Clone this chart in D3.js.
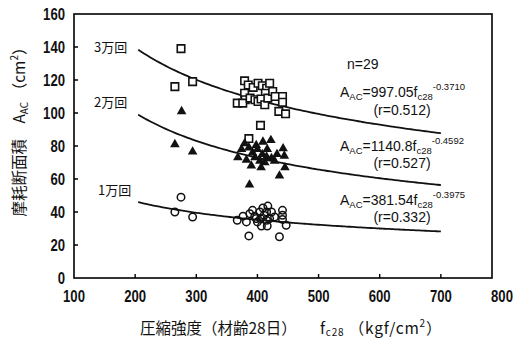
<!DOCTYPE html>
<html>
<head>
<meta charset="utf-8">
<script src="https://cdn.jsdelivr.net/npm/d3@7"></script>
<style>
  body { margin: 0; background: #fff; }
  .num { font-family: "Liberation Sans", Arial, sans-serif; }
  .jp  { font-family: "Noto Sans CJK JP", "Noto Sans CJK SC", sans-serif; }
  text { fill: #111; }
</style>
</head>
<body>
<svg id="chart" width="516" height="339"></svg>
<script>
// Abraded cross-section area A_AC (cm²) against 28-day compressive strength f_c28 (kgf/cm²)
const xTicks = [100, 200, 300, 400, 500, 600, 700, 800];
const yTicks = [0, 20, 40, 60, 80, 100, 120, 140, 160];

// [f_c28, A_AC] after 30,000 cycles
const cycles3 = [
  [275, 139], [265, 116], [294, 119],
  [379, 119.5], [385, 117], [393, 115.5], [401, 118], [408, 116.5], [415, 115],
  [420, 118], [413, 112], [379, 112], [380, 108], [367, 106], [376, 106],
  [388, 109], [396, 108], [401, 107], [406, 108.5], [412, 105], [417, 109],
  [425, 113], [429, 110], [441, 110], [441, 106.5], [435, 101], [446, 99.5],
  [405, 92.5], [386, 84.5]
];
// after 20,000 cycles
const cycles2 = [
  [276, 101], [265, 81], [294, 76.5],
  [379, 81.5], [386, 79], [398, 80.5], [409, 82.5], [422, 83.5], [442, 78.5],
  [374, 78], [400, 78], [416, 78], [368, 73], [382, 71.5], [392, 76],
  [396, 73], [404, 71], [408, 75], [415, 73.5], [423, 72.5], [428, 71],
  [432, 75], [444, 74], [412, 70], [390, 68], [406, 67], [445, 67],
  [436, 62], [387, 56.5]
];
// after 10,000 cycles
const cycles1 = [
  [275, 49], [265, 40], [294, 37],
  [367, 35], [376.5, 37.5], [382, 34], [387.5, 39], [392, 41], [395.6, 37.5],
  [398, 36], [400, 34], [404, 40], [405, 36], [409, 42.4], [411, 38],
  [415, 40], [417, 43.6], [415, 35], [420, 36], [423, 40], [428, 37],
  [406.5, 31.5], [416, 31.5], [441, 41], [441, 38], [441, 35.5], [447, 32],
  [386, 25.5], [436, 25]
];

// regression A_AC = a · f_c28^b
const fitCoef = [997.05, 1140.8, 381.54];
const fitExp = [-0.3710, -0.4592, -0.3975];
const fitR = [0.512, 0.527, 0.332];
const fitCoefText = ["997.05", "1140.8", "381.54"];
const fitExpText = ["-0.3710", "-0.4592", "-0.3975"];
const fitRText = ["0.512", "0.527", "0.332"];
const fitRange = [205, 700];
const seriesLabels = ["3万回", "2万回", "1万回"];
const sampleCount = "n=29";

const svg = d3.select("#chart");
const plotBox = { left: 74, top: 14, right: 492, bottom: 278 };

const x = d3.scaleLinear().domain([100, 800]).range([plotBox.left, 502]);
const y = d3.scaleLinear().domain([0, 160]).range([plotBox.bottom, plotBox.top]);

// tick labels (condensed bold digits)
svg.append("g").selectAll("text").data(yTicks).join("text")
  .attr("class", "num").attr("font-size", 16).attr("font-weight", "bold")
  .attr("text-anchor", "end")
  .attr("transform", v => `translate(65,${y(v) + 6}) scale(0.82,1)`)
  .text(d3.format("d"));
svg.append("g").selectAll("text").data(xTicks).join("text")
  .attr("class", "num").attr("font-size", 16).attr("font-weight", "bold")
  .attr("text-anchor", "middle")
  .attr("transform", v => `translate(${x(v)},302) scale(0.82,1)`)
  .text(d3.format("d"));

// rich text helper: parts of [string, "", "sub" | "sup"]
function richText(sel, parts, size, subSize, subDy = 3, supDy = -7) {
  let shift = 0;
  parts.forEach(([s, kind]) => {
    const target = kind === "sub" ? subDy : kind === "sup" ? supDy : 0;
    sel.append("tspan")
      .attr("dy", target - shift)
      .attr("font-size", kind ? subSize : size)
      .text(s);
    shift = target;
  });
}

// fitted curves
const line = d3.line().x(d => x(d[0])).y(d => y(d[1])).curve(d3.curveBasis);
fitCoef.forEach((a, i) => {
  const pts = d3.range(fitRange[0], fitRange[1] + 1, 5).map(f => [f, a * Math.pow(f, fitExp[i])]);
  svg.append("path").datum(pts).attr("d", line)
    .attr("fill", "none").attr("stroke", "#111").attr("stroke-width", 1.8);
});

// markers
const sq = d3.symbol(d3.symbolSquare, 56);
const tri = d3.symbol(d3.symbolTriangle, 40);
const circ = d3.symbol(d3.symbolCircle, 44);

svg.append("g").selectAll("path").data(cycles3).join("path")
  .attr("d", sq).attr("transform", d => `translate(${x(d[0])},${y(d[1])})`)
  .attr("fill", "#fff").attr("stroke", "#111").attr("stroke-width", 1.6);
svg.append("g").selectAll("path").data(cycles2).join("path")
  .attr("d", tri).attr("transform", d => `translate(${x(d[0])},${y(d[1])})`)
  .attr("fill", "#111");
svg.append("g").selectAll("path").data(cycles1).join("path")
  .attr("d", circ).attr("transform", d => `translate(${x(d[0])},${y(d[1])})`)
  .attr("fill", "none").attr("stroke", "#111").attr("stroke-width", 1.5);

// series labels
const labelPos = [[94, 52], [94, 107], [98, 195]];
seriesLabels.forEach((s, i) => {
  svg.append("text").attr("class", "jp").attr("x", labelPos[i][0]).attr("y", labelPos[i][1])
    .attr("font-size", 13).text(s);
});

// sample count
svg.append("text").attr("class", "num").attr("x", 347).attr("y", 69).attr("font-size", 14).text(sampleCount);

// regression equations
const eqBase = [97, 151, 205];
const rBase = [115, 168, 222];
fitCoef.forEach((a, i) => {
  const t = svg.append("text").attr("class", "num").attr("x", 340).attr("y", eqBase[i]);
  richText(t, [["A", ""], ["AC", "sub"], ["=" + fitCoefText[i] + "f", ""], ["c28", "sub"], [fitExpText[i], "sup"]], 14, 9.5);
  svg.append("text").attr("class", "num").attr("x", 402).attr("y", rBase[i])
    .attr("text-anchor", "middle").attr("font-size", 14).text(`(r=${fitRText[i]})`);
});

// axis titles
const yt = svg.append("text").attr("transform", "translate(25,128) rotate(-90)")
  .attr("text-anchor", "middle").attr("class", "jp");
richText(yt, [["摩耗断面積　A", ""], ["AC", "sub"], [" （cm", ""], ["2", "sup"], ["）", ""]], 15.5, 10);

svg.append("text").attr("x", 140).attr("y", 334).attr("class", "jp").attr("font-size", 15.5)
  .text("圧縮強度（材齢28日）");
const xt = svg.append("text").attr("x", 320).attr("y", 334).attr("class", "jp").attr("letter-spacing", 0.8);
richText(xt, [["f", ""], ["c28", "sub"], [" （kgf/cm", ""], ["2", "sup"], ["）", ""]], 15.5, 10, 2, -7);

// plot frame
svg.append("rect")
  .attr("x", plotBox.left).attr("y", plotBox.top)
  .attr("width", plotBox.right - plotBox.left).attr("height", plotBox.bottom - plotBox.top)
  .attr("fill", "none").attr("stroke", "#000").attr("stroke-width", 1.6);

// inward tick marks
const tp = d3.path();
yTicks.filter(v => v > 0 && v < 160).forEach(v => { tp.moveTo(plotBox.left, y(v)); tp.lineTo(plotBox.left + 4, y(v)); });
xTicks.filter(v => x(v) > plotBox.left + 1 && x(v) < plotBox.right - 1)
  .forEach(v => { tp.moveTo(x(v), plotBox.bottom); tp.lineTo(x(v), plotBox.bottom - 4); });
svg.append("path").attr("d", tp.toString())
  .attr("fill", "none").attr("stroke", "#000").attr("stroke-width", 1.4);
</script>
</body>
</html>
